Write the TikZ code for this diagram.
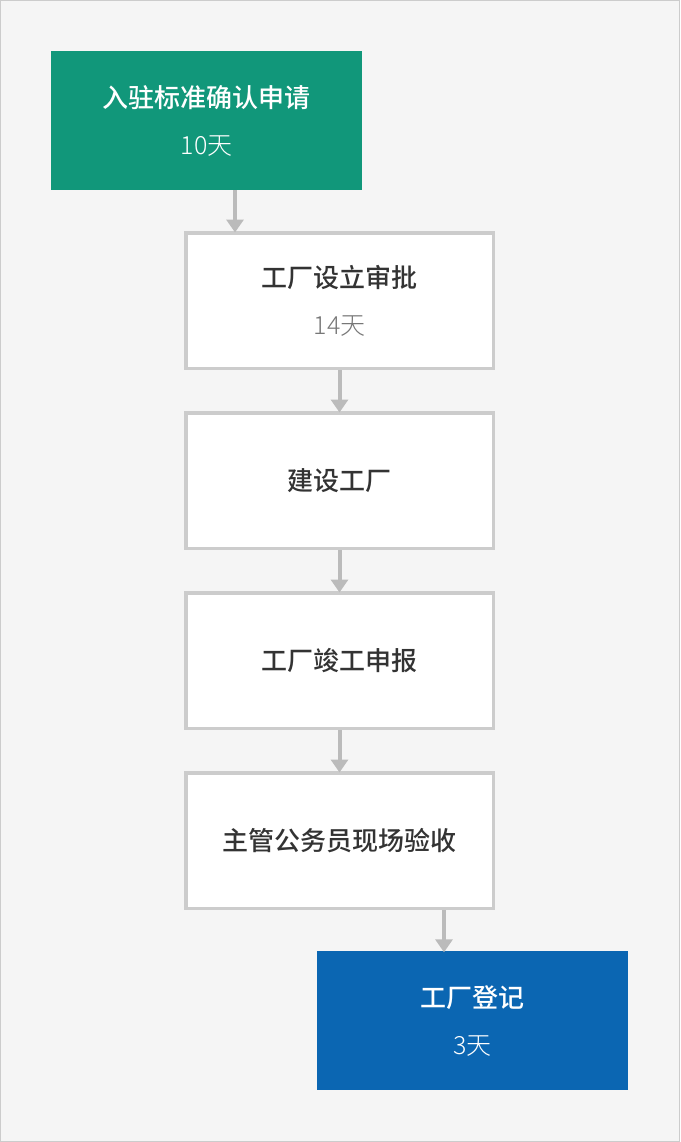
\documentclass[tikz,border=0pt]{standalone}
\usepackage{fontspec}
\newfontfamily\cjk[BoldFont={Noto Sans CJK SC Medium}]{Noto Sans CJK SC}
\newfontfamily\cjklight{Noto Sans CJK SC Light}
\usepackage{tikz}
\usetikzlibrary{arrows.meta}
\definecolor{flowgreen}{RGB}{17,151,122}
\definecolor{flowblue}{RGB}{11,102,178}
\definecolor{boxline}{RGB}{204,204,204}
\definecolor{arrowgray}{RGB}{187,187,187}
\definecolor{pagegray}{RGB}{245,245,245}
\definecolor{titlegray}{RGB}{51,51,51}
\definecolor{daygray}{RGB}{119,119,119}
\newcommand{\steptitle}[1]{{\bfseries\fontsize{26}{47}\selectfont #1}}
\newcommand{\stepdays}[1]{{\cjklight\fontsize{25}{47}\selectfont #1}}

\begin{document}
\begin{tikzpicture}[x=1pt,y=-1pt,
        graybox/.style={draw=boxline, line width=3.5pt, fill=white, minimum width=307.5pt, minimum height=135.5pt, inner sep=0pt, align=center, text=titlegray, font=\cjk\fontsize{24}{47}\selectfont},
        colorbox/.style={minimum width=311pt, minimum height=139pt, inner sep=0pt, align=center, text=white, font=\cjk\fontsize{24}{47}\selectfont},
        arr/.style={draw=arrowgray, line width=4pt, -{Triangle[width=17pt,length=13pt]}, shorten >=-1.5pt}]
        \useasboundingbox (0,0) rectangle (680,1142);
        \draw [draw=boxline, fill=pagegray] (0.5,0.5) rectangle (679.5,1141.5);
        \node [colorbox, fill=flowgreen] (green) at (206.5,120.5) {\steptitle{入驻标准确认申请}\\\stepdays{10天}};
        \node [graybox] (s1) at (339.5,300.5) {\steptitle{工厂设立审批}\\\stepdays{\color{daygray}14天}};
        \foreach \n/\y/\t in {s2/480.5/建设工厂, s3/660.5/工厂竣工申报, s4/840.5/主管公务员现场验收} { \node [graybox] (\n) at (339.5,\y) {\steptitle{\t}}; }
        \node [colorbox, fill=flowblue] (blue) at (472.5,1020.5) {\steptitle{工厂登记}\\\stepdays{3天}};
        \coordinate (gx) at (235,0);
        \coordinate (bx) at (444,0);
        \draw [arr] (green.south -| gx) -- (s1.north -| gx);
        \foreach \a/\b in {s1/s2, s2/s3, s3/s4} { \draw [arr] (\a) -- (\b); }
        \draw [arr] (s4.south -| bx) -- (blue.north -| bx);
  \end{tikzpicture}
\end{document}
